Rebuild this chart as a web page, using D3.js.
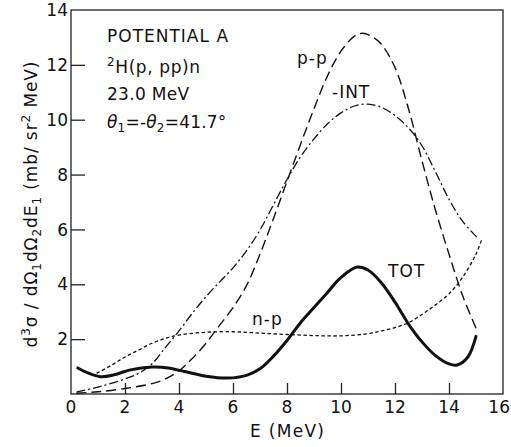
<!DOCTYPE html>
<meta charset="utf-8">
<style>
  body { margin: 0; background: #fff; }
  text { font-family: "DejaVu Sans", "Liberation Sans", sans-serif; fill: #111; }
  .tick-label { font-size: 17px; }
  .note { font-size: 17px; letter-spacing: 1px; }
  .curve { fill: none; stroke: #111; }
</style>
<svg width="511" height="447"></svg>
<script src="https://d3js.org/d3.v7.min.js"></script>
<script>
// tick values
var xTicks = [0, 2, 4, 6, 8, 10, 12, 14, 16];
var yTicks = [2, 4, 6, 8, 10, 12, 14];

// curves, [E (MeV), cross section]
var totE = [0.25, 0.6, 1.1, 1.6, 2.2, 3, 3.6, 4.2, 5, 5.8, 6.5, 7, 7.5, 8, 8.5, 9, 9.5, 10, 10.6, 11, 11.5, 12, 12.5, 13, 13.5, 14, 14.3, 14.7, 15];
var totV = [0.95, 0.78, 0.63, 0.7, 0.88, 0.98, 0.95, 0.82, 0.65, 0.58, 0.68, 0.92, 1.38, 1.95, 2.6, 3.15, 3.7, 4.25, 4.63, 4.52, 4.05, 3.35, 2.55, 1.9, 1.4, 1.1, 1.06, 1.35, 2.1];

var npE = [0.95, 1.5, 2, 2.5, 3, 3.5, 4, 5, 6, 7, 8, 9, 10, 11, 11.5, 12, 12.5, 13, 13.5, 14, 14.5, 15, 15.2];
var npV = [0.75, 1.05, 1.35, 1.6, 1.85, 2.03, 2.15, 2.25, 2.27, 2.22, 2.17, 2.13, 2.12, 2.2, 2.3, 2.42, 2.6, 2.9, 3.25, 3.65, 4.25, 5.1, 5.6];

var intE = [0.2, 1, 2, 2.5, 3, 3.5, 4, 4.5, 5, 5.5, 6, 6.5, 7, 7.5, 8, 8.5, 9, 9.5, 10, 10.5, 11, 11.5, 12, 12.5, 13, 13.5, 14, 14.5, 15.1];
var intV = [0.07, 0.25, 0.55, 0.75, 1.1, 1.7, 2.3, 2.95, 3.55, 4.08, 4.6, 5.22, 5.98, 6.9, 7.82, 8.65, 9.3, 9.85, 10.25, 10.5, 10.57, 10.45, 10.15, 9.7, 9.05, 8.1, 7.1, 6.3, 5.65];

var ppE = [0.2, 1, 2, 3, 3.5, 4, 4.5, 5, 5.5, 6, 6.5, 7, 7.5, 8, 8.5, 9, 9.5, 10, 10.5, 10.8, 11.2, 11.5, 12, 12.5, 13, 13.5, 14, 14.5, 15];
var ppV = [0.03, 0.08, 0.2, 0.38, 0.55, 0.85, 1.3, 1.85, 2.5, 3.15, 3.95, 5.1, 6.4, 7.75, 9.1, 10.4, 11.6, 12.5, 13.05, 13.15, 13.0, 12.75, 11.9, 10.4, 8.5, 6.7, 5.1, 3.6, 2.4];

var svg = d3.select("svg");

var x = d3.scaleLinear().domain([0, 16]).range([71, 503]);
var y = d3.scaleLinear().domain([0, 14]).range([394, 10]);

// frame
svg.append("rect")
    .attr("x", x(0)).attr("y", y(14))
    .attr("width", x(16) - x(0)).attr("height", y(0) - y(14))
    .attr("fill", "none").attr("stroke", "#222").attr("stroke-width", 1.3);

// bottom axis, ticks pointing in
var xAxis = d3.axisBottom(x)
    .tickValues(xTicks.filter(function(d) { return d > 0 && d < 16; }))
    .tickSizeInner(-11).tickSizeOuter(0).tickFormat("");
svg.append("g").attr("transform", "translate(0," + y(0) + ")").call(xAxis)
    .call(function(g) { g.select(".domain").remove(); })
    .selectAll("line").attr("stroke", "#222").attr("stroke-width", 1.3);

// last label sits flush with the page edge
svg.selectAll(".xlab").data(xTicks).enter().append("text")
    .attr("class", "tick-label")
    .attr("x", function(d) { return d === 16 ? x(d) + 7 : x(d); })
    .attr("y", 413)
    .attr("text-anchor", function(d) { return d === 16 ? "end" : "middle"; })
    .text(function(d) { return d; });

// left axis, ticks pointing in
var yAxis = d3.axisLeft(y)
    .tickValues(yTicks.filter(function(d) { return d < 14; }))
    .tickSizeInner(-14).tickSizeOuter(0).tickFormat("");
svg.append("g").attr("transform", "translate(" + x(0) + ",0)").call(yAxis)
    .call(function(g) { g.select(".domain").remove(); })
    .selectAll("line").attr("stroke", "#222").attr("stroke-width", 1.3);

svg.selectAll(".ylab").data(yTicks).enter().append("text")
    .attr("class", "tick-label")
    .attr("x", 68)
    .attr("y", function(d) { return y(d); })
    .attr("dy", "0.36em")
    .attr("text-anchor", "end")
    .text(function(d) { return d; });

// axis titles
svg.append("text").attr("class", "tick-label")
    .attr("x", 250).attr("y", 437).attr("letter-spacing", 1.3)
    .text("E (MeV)");

var yt = svg.append("text").attr("class", "tick-label")
    .attr("transform", "translate(37,204) rotate(-90)")
    .attr("text-anchor", "middle")
    .attr("letter-spacing", 0.9);
yt.append("tspan").text("d");
yt.append("tspan").attr("dy", -7).attr("font-size", 12).text("3");
yt.append("tspan").attr("dy", 7).text("σ / dΩ");
yt.append("tspan").attr("dy", 4).attr("font-size", 12).text("1");
yt.append("tspan").attr("dy", -4).text("dΩ");
yt.append("tspan").attr("dy", 4).attr("font-size", 12).text("2");
yt.append("tspan").attr("dy", -4).text("dE");
yt.append("tspan").attr("dy", 4).attr("font-size", 12).text("1");
yt.append("tspan").attr("dy", -4).text(" (mb/ sr");
yt.append("tspan").attr("dy", -7).attr("font-size", 12).text("2");
yt.append("tspan").attr("dy", 7).text(" MeV)");

// curves
var line = d3.line()
    .x(function(d) { return x(d[0]); })
    .y(function(d) { return y(d[1]); })
    .curve(d3.curveCatmullRom.alpha(0.5));

function pairs(a, b) { return a.map(function(d, i) { return [d, b[i]]; }); }

svg.append("path").attr("class", "curve")
    .attr("d", line(pairs(ppE, ppV)))
    .attr("stroke-width", 1.4).attr("stroke-dasharray", "10,5");
svg.append("path").attr("class", "curve")
    .attr("d", line(pairs(intE, intV)))
    .attr("stroke-width", 1.3).attr("stroke-dasharray", "9,3,2,3");
svg.append("path").attr("class", "curve")
    .attr("d", line(pairs(npE, npV)))
    .attr("stroke-width", 1.3).attr("stroke-dasharray", "3.5,2.5");
svg.append("path").attr("class", "curve")
    .attr("d", line(pairs(totE, totV)))
    .attr("stroke-width", 3).attr("stroke-linecap", "round");

// curve labels
svg.append("text").attr("class", "note").attr("x", 297).attr("y", 64).text("p-p");
svg.append("text").attr("class", "note").attr("x", 332).attr("y", 98).text("-INT");
svg.append("text").attr("class", "note").attr("x", 388).attr("y", 277).text("TOT");
svg.append("text").attr("class", "note").attr("x", 252).attr("y", 325).text("n-p");

// annotation block
var note = svg.append("g").attr("class", "note").attr("font-size", 18).attr("letter-spacing", 1.4);
note.append("text").attr("x", 107).attr("y", 42).text("POTENTIAL A");
var t2 = note.append("text").attr("x", 107).attr("y", 73).attr("letter-spacing", 0.6);
t2.append("tspan").attr("dy", -7).attr("font-size", 12).text("2");
t2.append("tspan").attr("dy", 7).text("H(p, pp)n");
note.append("text").attr("x", 107).attr("y", 100).attr("letter-spacing", 0.3).text("23.0 MeV");
var t4 = note.append("text").attr("x", 107).attr("y", 128).attr("letter-spacing", 0.2);
t4.append("tspan").attr("font-style", "italic").text("θ");
t4.append("tspan").attr("dy", 4).attr("font-size", 12).text("1");
t4.append("tspan").attr("dy", -4).text("=-");
t4.append("tspan").attr("font-style", "italic").text("θ");
t4.append("tspan").attr("dy", 4).attr("font-size", 12).text("2");
t4.append("tspan").attr("dy", -4).text("=41.7°");
</script>
